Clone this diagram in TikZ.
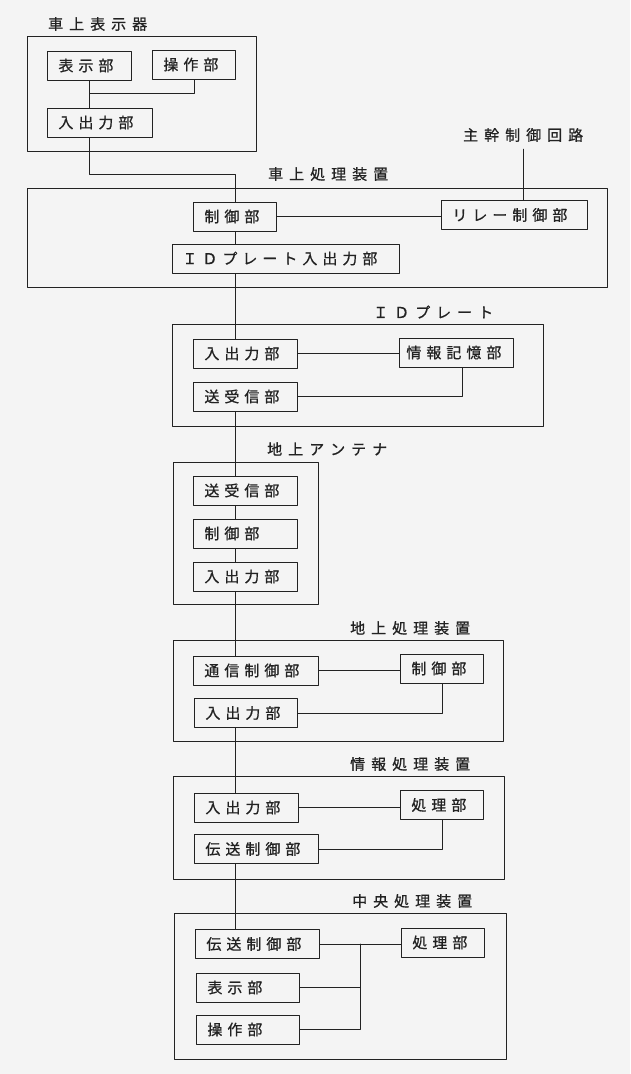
\documentclass[tikz,border=0pt]{standalone}
\usepackage{fontspec}
\newfontfamily\jp[FakeBold=0.8]{Noto Sans CJK JP}
\newcommand\jpfont{\jp\fontsize{15pt}{17pt}\selectfont\spaceskip=6pt\xspaceskip=6pt\relax}
\definecolor{paper}{HTML}{F4F4F4}
\definecolor{ink}{HTML}{222222}

\begin{document}
\begin{tikzpicture}[x=1pt,y=-1pt,line cap=round,line join=round,
    unit/.style={draw=ink,line width=0.8pt,anchor=west,minimum height=29pt,
      inner xsep=11pt,inner ysep=0pt,text width=#1,align=left,font=\jpfont,text=ink},
    outer/.style={draw=ink,line width=0.8pt},
    caption/.style={anchor=west,inner sep=0pt,font=\jpfont,text=ink},
    wire/.style={draw=ink,line width=0.7pt}]
  \fill[paper] (0,0) rectangle (630,1074);
  \coordinate (spine) at (235,0);

  % 車上表示器
  \node[caption] (t1) at (48,24) {車 上 表 示 器};
  \draw[outer] (27,36) rectangle (256,151);
  \node[unit=62pt] (hyo) at (47,65.5) {表 示 部};
  \node[unit=61pt] (sosa) at (152,64.5) {操 作 部};
  \node[unit=83pt] (io1) at (47,122.5) {入 出 力 部};

  % 車上処理装置
  \node[caption] (t2) at (268,174) {車 上 処 理 装 置};
  \node[caption] (trunk) at (463,135) {主 幹 制 御 回 路};
  \draw[outer] (27,188) rectangle (607,287);
  \node[unit=61pt] (ctl) at (193,216.5) {制 御 部};
  \node[unit=124pt] (relay) at (441,215) {リ レ ー 制 御 部};
  \node[unit=207pt,inner xsep=10pt] (idio) at (172,258.5) {Ｉ Ｄ プ レ ー ト 入 出 力 部};

  % IDプレート
  \node[caption] (t3) at (373,312) {Ｉ Ｄ プ レ ー ト};
  \draw[outer] (172,324) rectangle (543,426);
  \node[unit=82pt] (cio) at (193,353.5) {入 出 力 部};
  \node[unit=100pt,inner xsep=7pt] (mem) at (399,352.5) {情 報 記 憶 部};
  \node[unit=82pt] (trx) at (193,396.5) {送 受 信 部};

  % 地上アンテナ
  \node[caption] (t4) at (267,449) {地 上 ア ン テ ナ};
  \draw[outer] (173,462) rectangle (318,604);
  \node[unit=82pt] (atrx) at (193,490.5) {送 受 信 部};
  \node[unit=82pt] (actl) at (193,533.5) {制 御 部};
  \node[unit=82pt] (aio) at (193,576.5) {入 出 力 部};

  % 地上処理装置
  \node[caption] (t5) at (350,628) {地 上 処 理 装 置};
  \draw[outer] (173,640) rectangle (503,741);
  \node[unit=103pt] (gcom) at (193,670.5) {通 信 制 御 部};
  \node[unit=61pt] (gctl) at (400,668.5) {制 御 部};
  \node[unit=81pt] (gio) at (194,713) {入 出 力 部};

  % 情報処理装置
  \node[caption] (t6) at (350,764) {情 報 処 理 装 置};
  \draw[outer] (173,776) rectangle (504,879);
  \node[unit=82pt] (iio) at (194,807.5) {入 出 力 部};
  \node[unit=61pt] (ipro) at (400,805) {処 理 部};
  \node[unit=102pt] (itx) at (194,849) {伝 送 制 御 部};

  % 中央処理装置
  \node[caption] (t7) at (352,901) {中 央 処 理 装 置};
  \draw[outer] (174,913) rectangle (506,1059);
  \node[unit=102pt] (ctx) at (195,944) {伝 送 制 御 部};
  \node[unit=61pt] (cpro) at (401,942.5) {処 理 部};
  \node[unit=81pt] (cdisp) at (196,987.5) {表 示 部};
  \node[unit=81pt] (cop) at (196,1029.5) {操 作 部};
  \coordinate (hub) at (360,944);

  % connections
  \draw[wire] (hyo.south) -- ++(0,13) -| (sosa.south);
  \draw[wire] (hyo.south) -- (hyo.south |- io1.north);
  \draw[wire] (hyo.south |- io1.south) -- ++(0,37) -| (spine |- ctl.north);
  \draw[wire] (ctl.east) -- (ctl.east -| relay.west);
  \draw[wire] (trunk.south) ++(0,7) -- (trunk.south |- relay.north);
  \foreach \a/\b in {ctl/idio,idio/cio,trx/atrx,atrx/actl,actl/aio,aio/gcom,gio/iio,itx/ctx}
    \draw[wire] (spine |- \a.south) -- (spine |- \b.north);
  \draw[wire] (cio.east) -- (cio.east -| mem.west);
  \draw[wire] ([xshift=6pt]mem.south) |- (trx.east);
  \draw[wire] (gcom.east) -- (gcom.east -| gctl.west);
  \draw[wire] (gctl.south) |- (gio.east);
  \draw[wire] (iio.east) -- (iio.east -| ipro.west);
  \draw[wire] (ipro.south) |- (itx.east);
  \draw[wire] (ctx.east) -- (ctx.east -| cpro.west);
  \draw[wire] (hub) |- (cop.east);
  \draw[wire] (hub |- cdisp.east) -- (cdisp.east);
\end{tikzpicture}
\end{document}
